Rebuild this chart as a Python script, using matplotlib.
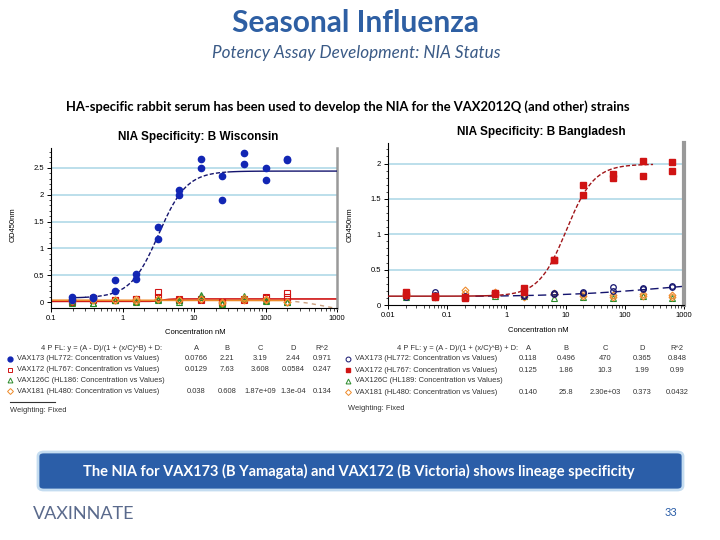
import numpy as np
import matplotlib.pyplot as plt
from matplotlib.patches import FancyBboxPatch
from matplotlib.ticker import FixedLocator, NullFormatter

# ---------- data: NIA Specificity, B Wisconsin (left) ----------
conc_wi = [0.195, 0.39, 0.78, 1.56, 3.125, 6.25, 12.5, 25, 50, 100, 200]
vax173_wi_a = [0.09, 0.10, 0.42, 0.52, 1.39, 2.08, 2.67, 2.34, 2.78, 2.49, 2.66]
vax173_wi_b = [0.03, 0.08, 0.20, 0.43, 1.17, 2.00, 2.49, 1.90, 2.58, 2.28, 2.64]
vax172_wi_a = [0.00, 0.07, 0.04, 0.05, 0.19, 0.05, 0.05, 0.00, 0.06, 0.09, 0.17]
vax172_wi_b = [0.02, 0.03, 0.03, 0.06, 0.10, 0.03, 0.04, -0.01, 0.04, 0.07, 0.10]
vax126_wi_a = [0.02, -0.02, 0.04, 0.02, 0.04, 0.01, 0.14, -0.03, 0.12, 0.02, 0.00]
vax126_wi_b = [-0.01, -0.01, 0.03, 0.01, 0.05, 0.03, 0.09, -0.02, 0.08, 0.04, 0.01]
vax181_wi_a = [0.03, 0.04, 0.03, 0.05, 0.05, 0.03, 0.06, -0.01, 0.07, 0.06, 0.00]
vax181_wi_b = [0.02, 0.03, 0.04, 0.02, 0.06, 0.04, 0.05, 0.00, 0.03, 0.03, 0.01]
# VAX181 trend line
vax181_wi_line_x = [0.1, 200, 400, 700, 1000]
vax181_wi_line_y = [0.035, 0.03, -0.02, -0.08, -0.12]

# 4PL parameters A, B, C, D as printed in the tables
fit_wi_173 = [0.0766, 2.21, 3.19, 2.44]
fit_wi_172 = [0.0129, 7.63, 3.61, 0.0584]

# ---------- data: NIA Specificity, B Bangladesh (right) ----------
conc_bd = [0.02, 0.0632, 0.2, 0.632, 2, 6.32, 20, 63.2, 200, 632]
vax172_bd_a = [0.19, 0.13, 0.12, 0.17, 0.24, 0.63, 1.70, 1.85, 2.04, 2.02]
vax172_bd_b = [0.14, 0.12, 0.10, 0.15, 0.19, 0.63, 1.55, 1.80, 1.82, 1.89]
vax173_bd_a = [0.15, 0.18, 0.13, 0.16, 0.14, 0.17, 0.18, 0.25, 0.24, 0.27]
vax173_bd_b = [0.12, 0.14, 0.12, 0.15, 0.13, 0.16, 0.17, 0.20, 0.22, 0.26]
vax126_bd = [0.12, 0.12, 0.11, 0.13, 0.13, 0.10, 0.12, 0.10, 0.13, 0.10]
vax181_bd_a = [0.16, 0.13, 0.21, 0.18, 0.14, 0.17, 0.16, 0.14, 0.15, 0.12]
vax181_bd_b = [0.13, 0.12, 0.17, 0.16, 0.12, 0.15, 0.13, 0.12, 0.13, 0.14]

fit_bd_173 = [0.118, 0.496, 470, 0.365]
fit_bd_172 = [0.125, 1.86, 10.3, 1.99]

# ---------- legend tables ----------
table_header = "4 P FL: y = (A - D)/(1 + (x/C)^B) + D:"
table_cols = ["A", "B", "C", "D", "R^2"]
rows_wi = ["VAX173 (HL772: Concentration vs Values)",
           "VAX172 (HL767: Concentration vs Values)",
           "VAX126C (HL186: Concentration vs Values)",
           "VAX181 (HL480: Concentration vs Values)"]
vals_wi = [["0.0766", "2.21", "3.19", "2.44", "0.971"],
           ["0.0129", "7.63", "3.608", "0.0584", "0.247"],
           ["", "", "", "", ""],
           ["0.038", "0.608", "1.87e+09", "1.3e-04", "0.134"]]
rows_bd = ["VAX173 (HL772: Concentration vs Values)",
           "VAX172 (HL767: Concentration vs Values)",
           "VAX126C (HL189: Concentration vs Values)",
           "VAX181 (HL480: Concentration vs Values)"]
vals_bd = [["0.118", "0.496", "470", "0.365", "0.848"],
           ["0.125", "1.86", "10.3", "1.99", "0.99"],
           ["", "", "", "", ""],
           ["0.140", "25.8", "2.30e+03", "0.373", "0.0432"]]

navy = "#14146e"
blue = "#1226b4"
red = "#d01414"
darkred = "#a01418"
green = "#2a8a2a"
orange = "#ee8a2a"
grid_col = "#a9d6e5"
title_blue = "#2e5fa3"


def fpl(x, p):
    A, B, C, D = p
    return (A - D) / (1 + (x / C) ** B) + D


def px(x):
    return x / 720


def py(y):
    return 1 - y / 540


fig = plt.figure(figsize=(7.2, 5.4), dpi=100)

# ---------- slide text ----------
fig.text(px(355), py(23), "Seasonal Influenza", ha="center", va="center",
         family="Lato", weight="bold", fontsize=21.5, color=title_blue)
fig.text(px(356), py(53), "Potency Assay Development: NIA Status", ha="center",
         va="center", family="Lato", style="italic", fontsize=12.3, color="#3a5a86")
fig.text(px(348), py(107), "HA-specific rabbit serum has been used to develop the NIA "
         "for the VAX2012Q (and other) strains", ha="center", va="center",
         family="Lato", weight="bold", fontsize=9.4, color="black")


def style_axes(ax, xlim, ylim, yticks, xticks, xlabels):
    ax.set_xscale("log")
    ax.set_xlim(*xlim)
    ax.set_ylim(*ylim)
    ax.set_yticks(yticks)
    ax.set_yticklabels([("%g" % t) for t in yticks])
    ax.yaxis.set_minor_locator(FixedLocator(np.arange(0, ylim[1], 0.1)))
    ax.set_xticks(xticks)
    ax.set_xticklabels(xlabels)
    ax.xaxis.set_minor_formatter(NullFormatter())
    for t in yticks:
        if t > 0:
            ax.axhline(t, color=grid_col, lw=1.1, zorder=0)
    ax.spines["top"].set_visible(False)
    ax.spines["right"].set_color("#999999")
    ax.spines["right"].set_linewidth(1.8)
    ax.spines["left"].set_linewidth(0.8)
    ax.spines["bottom"].set_linewidth(0.8)
    ax.tick_params(labelsize=5.5, length=3, width=0.7, pad=2)
    ax.tick_params(which="minor", length=1.8, width=0.5)
    for lab in ax.get_xticklabels() + ax.get_yticklabels():
        lab.set_family("Liberation Sans")


# ---------- left chart ----------
ax1 = fig.add_axes([px(51), py(308), px(286), (308 - 148) / 540])
style_axes(ax1, (0.1, 1000), (-0.11, 2.87), [0, 0.5, 1, 1.5, 2, 2.5],
           [0.1, 1, 10, 100, 1000], ["0.1", "1", "10", "100", "1000"])

xs = np.logspace(np.log10(0.1), 3, 300)
ax1.plot(xs, fpl(xs, fit_wi_172), color=red, lw=1.2, zorder=2)
ax1.plot(vax181_wi_line_x[:2], vax181_wi_line_y[:2], color=orange, lw=1.2, zorder=2)
ax1.plot(vax181_wi_line_x[1:], vax181_wi_line_y[1:], color="#c8a080", lw=1,
         ls=(0, (3, 3)), zorder=2)

x_a = np.logspace(np.log10(0.195), np.log10(0.3), 20)
x_b = np.logspace(np.log10(0.3), np.log10(30), 200)
x_c = np.logspace(np.log10(30), 3, 100)
ax1.plot(x_a, fpl(x_a, fit_wi_173), color=navy, lw=1, zorder=3)
ax1.plot(x_b, fpl(x_b, fit_wi_173), color=navy, lw=1, ls=(0, (3, 1.5)), zorder=3)
ax1.plot(x_c, fpl(x_c, fit_wi_173), color=navy, lw=1, zorder=3)

for ys in (vax172_wi_a, vax172_wi_b):
    ax1.plot(conc_wi, ys, "s", ms=4, mfc="none", mec=red, mew=0.8, ls="none", zorder=4)
for ys in (vax126_wi_a, vax126_wi_b):
    ax1.plot(conc_wi, ys, "^", ms=4, mfc="none", mec=green, mew=0.8, ls="none", zorder=4)
for ys in (vax181_wi_a, vax181_wi_b):
    ax1.plot(conc_wi, ys, "D", ms=3.5, mfc="none", mec=orange, mew=0.8, ls="none", zorder=4)
for ys in (vax173_wi_a, vax173_wi_b):
    ax1.plot(conc_wi, ys, "o", ms=4.5, color=blue, ls="none", zorder=5)

fig.text(px(198), py(137), "NIA Specificity: B Wisconsin", ha="center", va="center",
         family="Liberation Sans", weight="bold", fontsize=8.5)
fig.text(px(13), py(225), "OD450nm", rotation=90, ha="center", va="center",
         family="Liberation Sans", fontsize=5.5)
fig.text(px(195), py(333), "Concentration nM", ha="center", va="center",
         family="Liberation Sans", fontsize=5.5)

# ---------- right chart ----------
ax2 = fig.add_axes([px(388), py(305), px(296), (305 - 143) / 540])
style_axes(ax2, (0.01, 1000), (0, 2.29), [0, 0.5, 1, 1.5, 2],
           [0.01, 0.1, 1, 10, 100, 1000], ["0.01", "0.1", "1", "10", "100", "1000"])
ax2.spines["right"].set_linewidth(3)

xr1 = np.logspace(-2, np.log10(0.6), 60)
xr2 = np.logspace(np.log10(0.6), np.log10(300), 200)
xn = np.logspace(np.log10(0.3), 3, 200)
ax2.plot(xn, fpl(xn, fit_bd_173), color=navy, lw=1, ls=(0, (6, 3)), zorder=2)
ax2.plot(xr1, fpl(xr1, fit_bd_172), color=darkred, lw=1.1, zorder=3)
ax2.plot(xr2, fpl(xr2, fit_bd_172), color=darkred, lw=1, ls=(0, (3, 1.5)), zorder=3)

ax2.plot(conc_bd, vax126_bd, "^", ms=4, mfc="none", mec=green, mew=0.8, ls="none", zorder=4)
for ys in (vax181_bd_a, vax181_bd_b):
    ax2.plot(conc_bd, ys, "D", ms=3.5, mfc="none", mec=orange, mew=0.8, ls="none", zorder=4)
for ys in (vax173_bd_a, vax173_bd_b):
    ax2.plot(conc_bd, ys, "o", ms=4, mfc="none", mec=navy, mew=0.9, ls="none", zorder=4)
for ys in (vax172_bd_a, vax172_bd_b):
    ax2.plot(conc_bd, ys, "s", ms=4.5, color=red, ls="none", zorder=5)

fig.text(px(541), py(132), "NIA Specificity: B Bangladesh", ha="center", va="center",
         family="Liberation Sans", weight="bold", fontsize=8.5)
fig.text(px(350), py(225), "OD450nm", rotation=90, ha="center", va="center",
         family="Liberation Sans", fontsize=5.5)
fig.text(px(538), py(331), "Concentration nM", ha="center", va="center",
         family="Liberation Sans", fontsize=5.5)


# ---------- legend tables ----------
def draw_table(x0, hdr_x, col_x, rows, vals, markers, y0, dy):
    tc = "#333333"
    fig.text(px(hdr_x), py(y0), table_header, ha="right", va="center",
             family="Liberation Sans", fontsize=5.4, color=tc)
    for cx, c in zip(col_x, table_cols):
        fig.text(px(cx), py(y0), c, ha="center", va="center",
                 family="Liberation Sans", fontsize=5.4, color=tc)
    for i, (name, v, mk) in enumerate(zip(rows, vals, markers)):
        yy = y0 + dy * (i + 1)
        m, kw = mk
        fig.lines.append(plt.Line2D([px(x0)], [py(yy)], marker=m, ls="none",
                                    transform=fig.transFigure, **kw))
        fig.text(px(x0 + 7), py(yy), name, ha="left", va="center",
                 family="Liberation Sans", fontsize=5.4, color=tc)
        for cx, s in zip(col_x, v):
            fig.text(px(cx), py(yy), s, ha="center", va="center",
                     family="Liberation Sans", fontsize=5.4, color=tc)


mk_wi = [("o", dict(ms=3.5, color=blue)),
         ("s", dict(ms=3.5, mfc="none", mec=red, mew=0.7)),
         ("^", dict(ms=3.5, mfc="none", mec=green, mew=0.7)),
         ("D", dict(ms=3, mfc="none", mec=orange, mew=0.7))]
mk_bd = [("o", dict(ms=3.5, mfc="none", mec=navy, mew=0.7)),
         ("s", dict(ms=3.5, color=red)),
         ("^", dict(ms=3.5, mfc="none", mec=green, mew=0.7)),
         ("D", dict(ms=3, mfc="none", mec=orange, mew=0.7))]

draw_table(10, 162, [196, 227, 260, 293, 322], rows_wi, vals_wi, mk_wi, 348, 10.8)
draw_table(348, 518, [528, 566, 605, 642, 677], rows_bd, vals_bd, mk_bd, 348, 11)

fig.lines.append(plt.Line2D([px(10), px(55)], [py(402), py(402)], color="#333333",
                            lw=0.8, transform=fig.transFigure))
fig.text(px(10), py(410), "Weighting: Fixed", ha="left", va="center",
         family="Liberation Sans", fontsize=5.4, color="#333333")
fig.text(px(348), py(408), "Weighting: Fixed", ha="left", va="center",
         family="Liberation Sans", fontsize=5.4, color="#333333")

# ---------- conclusion box and footer ----------
box = FancyBboxPatch((px(38), py(490)), px(645), (490 - 452) / 540,
                     boxstyle="round,pad=0,rounding_size=0.008",
                     transform=fig.transFigure, facecolor="#2b5ea8",
                     edgecolor="#c4dcf0", lw=2)
fig.patches.append(box)
fig.text(px(359), py(471), "The NIA for VAX173 (B Yamagata) and VAX172 (B Victoria) "
         "shows lineage specificity", ha="center", va="center", family="Lato",
         weight="bold", fontsize=10.5, color="white")

fig.text(px(33), py(514), "VAXINNATE", ha="left", va="center", family="Lato",
         weight="normal", fontsize=13, color="#5a6a8c")
fig.text(px(671), py(513), "33", ha="center", va="center", family="Lato",
         fontsize=8, color="#2b5ea8")

plt.savefig("out.png", dpi=100)
plt.close()
